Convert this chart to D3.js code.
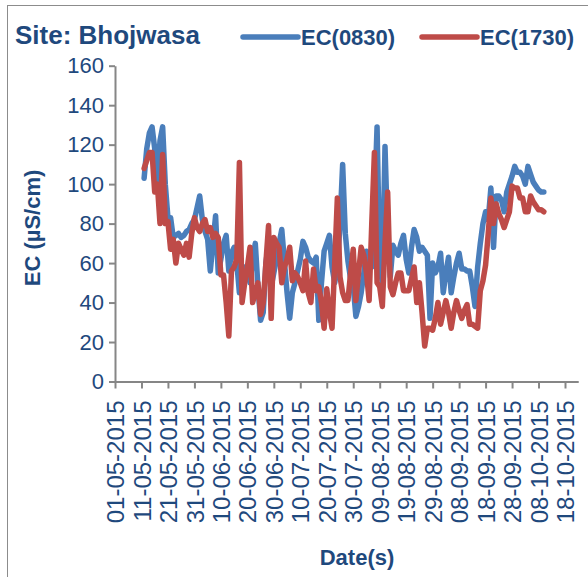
<!DOCTYPE html>
<html lang="en">
<head>
<meta charset="UTF-8">
<title>Site: Bhojwasa</title>
<style>
  body { margin: 0; background: #fff; }
  text { font-family: "Liberation Sans", Arial, sans-serif; fill: #1F497D; }
</style>
</head>
<body>
<svg width="588" height="577"></svg>
<script src="https://d3js.org/d3.v7.min.js"></script>
<script>
// daily readings, first value is 12-05-2015
var firstDay = "12-05-2015";
var ec0830 = [
  103,118,126,129,118,100,122,129,100,83,
  83,73,74,75,73,74,76,77,80,82,
  88,94,82,76,72,56,70,84,55,62,
  70,74,56,65,68,60,45,52,58,58,
  50,62,70,48,31,35,60,70,48,55,
  62,70,77,61,45,32,45,50,56,62,
  71,68,63,61,60,63,31,50,66,70,
  74,58,50,58,80,110,75,61,52,48,
  33,38,45,55,66,62,58,90,129,60,
  50,119,75,53,69,66,64,70,74,62,
  55,68,77,73,66,68,66,64,32,60,
  55,58,65,45,55,63,45,53,60,65,
  57,57,56,56,48,38,58,70,80,86,
  82,98,68,94,94,92,86,96,100,104,
  109,106,106,104,100,109,105,101,99,97,
  96,96
];
var ec1730 = [
  108,112,116,116,96,100,80,115,80,81,
  67,72,60,70,67,64,70,63,75,83,
  78,76,80,82,76,78,73,75,73,54,
  54,40,23,56,58,62,111,40,50,58,
  68,40,45,50,34,40,60,79,32,73,
  70,68,50,58,62,68,51,55,53,50,
  46,61,45,40,57,46,48,40,27,47,
  35,27,60,93,53,45,41,41,55,67,
  41,55,68,64,55,41,80,116,50,48,
  38,70,96,48,44,50,55,55,46,46,
  46,52,58,40,50,35,18,27,27,26,
  32,40,29,35,41,35,27,35,41,36,
  32,36,39,29,29,28,27,46,51,59,
  75,93,80,90,85,82,78,82,86,99,
  98,98,93,93,86,86,94,91,89,87,
  87,86
];
var xTickLabels = ["01-05-2015","11-05-2015","21-05-2015","31-05-2015","10-06-2015","20-06-2015",
  "30-06-2015","10-07-2015","20-07-2015","30-07-2015","09-08-2015","19-08-2015","29-08-2015",
  "08-09-2015","18-09-2015","28-09-2015","08-10-2015","18-10-2015"];
var yTicks = [0,20,40,60,80,100,120,140,160];
var seriesNames = ["EC(0830)","EC(1730)"];
var seriesColors = ["#4A7EBB","#BE4B48"];

var parse = d3.timeParse("%d-%m-%Y");
var fmt = d3.timeFormat("%d-%m-%Y");
var start = parse(firstDay);
var dates = ec0830.map(function(d, i){ return d3.timeDay.offset(start, i); });

var svg = d3.select("svg");
var plotLeft = 115, plotBottom = 381.5, plotTop = 65.7;

// outer frame
svg.append("rect")
  .attr("x", 7.5).attr("y", 5.5)
  .attr("width", 620).attr("height", 620)
  .attr("fill", "none").attr("stroke", "#8c8c8c").attr("stroke-width", 1);

var x = d3.scaleTime()
  .domain([parse(xTickLabels[0]), d3.timeDay.offset(parse(xTickLabels[xTickLabels.length-1]), 5)])
  .range([plotLeft, plotLeft + 175 * 450 / 170]);
var y = d3.scaleLinear().domain([0, 160]).range([plotBottom, plotTop]);

// axes
var xAxis = d3.axisBottom(x)
  .tickValues(xTickLabels.map(parse))
  .tickFormat(fmt)
  .tickSize(7)
  .tickSizeOuter(0);
var gx = svg.append("g").attr("transform", "translate(0," + plotBottom + ")").call(xAxis);
gx.selectAll("text")
  .attr("transform", "rotate(-90)")
  .attr("text-anchor", "end")
  .attr("x", -19).attr("y", 0).attr("dy", "0.36em")
  .style("font-size", "24px");

var yAxis = d3.axisLeft(y).tickValues(yTicks).tickSize(6).tickPadding(5).tickSizeOuter(0);
var gy = svg.append("g").attr("transform", "translate(" + plotLeft + ",0)").call(yAxis);
gy.selectAll("text").style("font-size", "22px");

svg.selectAll(".domain, .tick line").attr("stroke", "#868686").attr("stroke-width", 2);
svg.selectAll(".tick text").style("fill", "#1F497D");

// lines
var line = d3.line()
  .x(function(d, i){ return x(dates[i]); })
  .y(function(d){ return y(d); });

[ec0830, ec1730].forEach(function(s, k){
  svg.append("path")
    .datum(s)
    .attr("d", line)
    .attr("fill", "none")
    .attr("stroke", seriesColors[k])
    .attr("stroke-width", 5.5)
    .attr("stroke-linejoin", "round")
    .attr("stroke-linecap", "round");
});

// title and legend
svg.append("text")
  .attr("x", 15).attr("y", 44)
  .style("font-size", "26px").style("font-weight", "bold")
  .text("Site: Bhojwasa");

var legX = [243, 422];
seriesNames.forEach(function(n, k){
  svg.append("line")
    .attr("x1", legX[k]).attr("x2", legX[k] + 55)
    .attr("y1", 37).attr("y2", 37)
    .attr("stroke", seriesColors[k]).attr("stroke-width", 5.5)
    .attr("stroke-linecap", "round");
  svg.append("text")
    .attr("x", legX[k] + 58).attr("y", 45)
    .style("font-size", "22px").style("font-weight", "bold")
    .text(n);
});

// axis titles
svg.append("text")
  .attr("transform", "translate(40,228) rotate(-90)")
  .attr("text-anchor", "middle")
  .style("font-size", "22px").style("font-weight", "bold")
  .text("EC (µS/cm)");

svg.append("text")
  .attr("x", 357).attr("y", 565)
  .attr("text-anchor", "middle")
  .style("font-size", "22px").style("font-weight", "bold")
  .text("Date(s)");
</script>
</body>
</html>
